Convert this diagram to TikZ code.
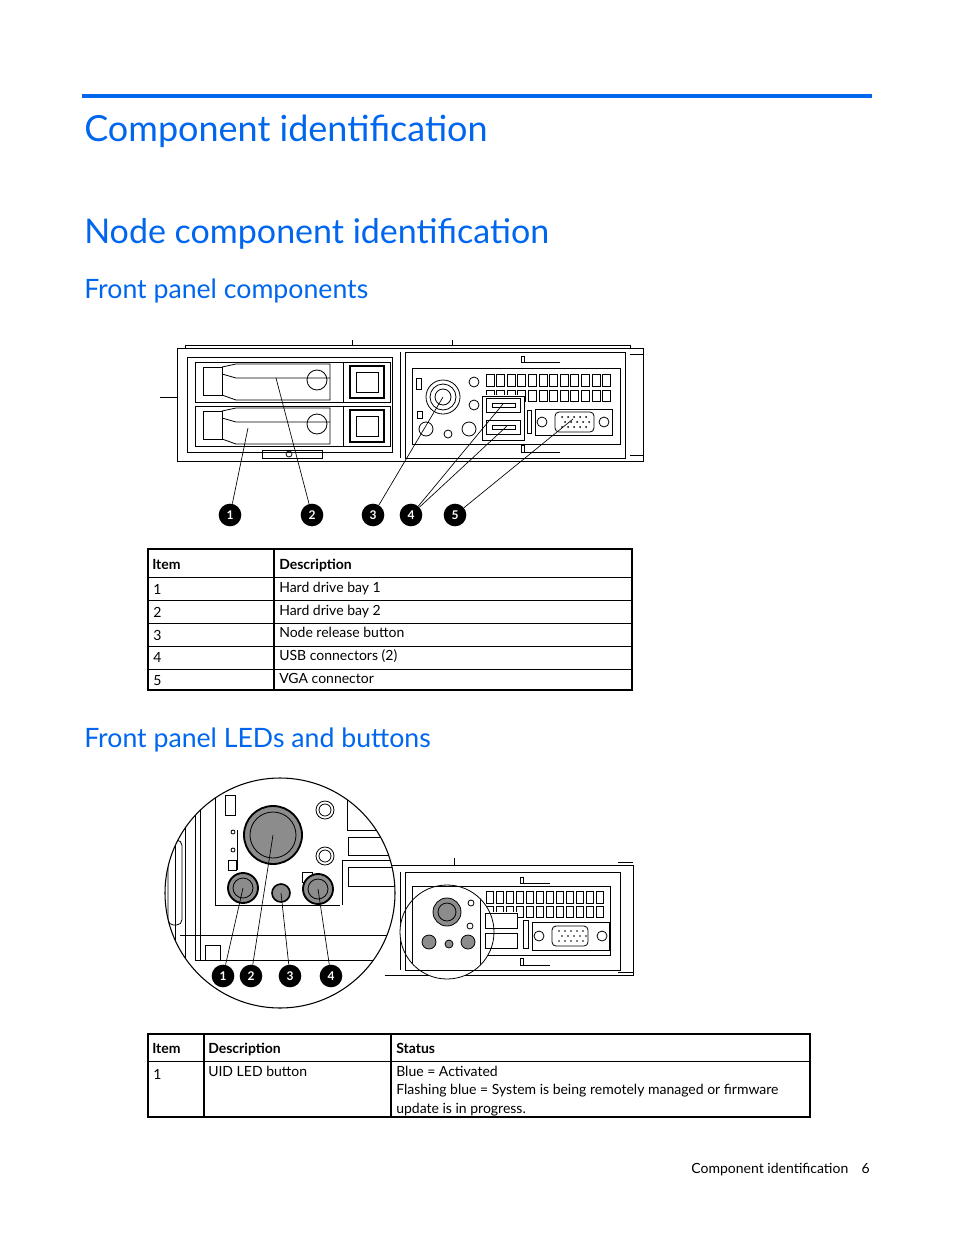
\documentclass[tikz,border=0pt]{standalone}
\usepackage{fontspec}
\setmainfont{Lato}
\definecolor{hpblue}{RGB}{0,102,238}
\definecolor{btn}{RGB}{140,140,140}
\begin{document}
\begin{tikzpicture}[x=0.75pt,y=-0.75pt,
  txt/.style={anchor=base west,inner sep=0pt,font=\fontsize{10.5}{12}\selectfont},
  hd/.style={anchor=base west,inner sep=0pt,font=\fontsize{10.5}{12}\selectfont\bfseries},
  badge/.style={circle,fill=black,text=white,inner sep=0pt,minimum size=17pt,font=\fontsize{9}{9}\selectfont\bfseries},
  ln/.style={line width=0.5pt},
  dl/.style={line width=0.6pt}]
\useasboundingbox (0,0) rectangle (954,1235);
% headings
\fill[hpblue] (82,94) rectangle (872,98);
\node[anchor=base west,inner sep=0pt,text=hpblue,font=\fontsize{27}{30}\selectfont] (t1) at (84,141) {Component identification};
\node[anchor=base west,inner sep=0pt,text=hpblue,font=\fontsize{25.5}{30}\selectfont] (t2) at (84,243) {Node component identification};
\node[anchor=base west,inner sep=0pt,text=hpblue,font=\fontsize{20}{24}\selectfont] (t3) at (84,298) {Front panel components};
\node[anchor=base west,inner sep=0pt,text=hpblue,font=\fontsize{20}{24}\selectfont] (t4) at (84,747) {Front panel LEDs and buttons};
\node[anchor=base east,inner sep=0pt,font=\fontsize{10.5}{12}\selectfont] (ft) at (870,1173) {Component identification\hspace{10pt}6};

% ===== drawing 1 =====
\begin{scope}[dl]
\draw (177,348) rectangle (643,461);
\draw (185,348) -- (185,345) -- (630,345) -- (630,348);
\draw (352,340) -- (352,345); \draw (452,340) -- (452,345);
\draw (160,397) -- (177,397);
\draw (187,357) rectangle (392,452);
\draw (400,352) -- (400,458);
\draw (405,352) rectangle (625,458);
\foreach \y in {362,406}{
  \draw (195,\y) rectangle (390,\y+40);
  \draw (203,\y+5) rectangle (222,\y+33);
  \draw (222,\y+5) -- (236,\y+2) -- (330,\y+2) -- (330,\y+38) -- (236,\y+38) -- (222,\y+33);
  \draw (222,\y+12) -- (236,\y+16) -- (330,\y+16);
  \draw (317,\y+18) circle (10);
  \draw (343,\y) -- (343,\y+40);
  \draw[line width=1.2pt] (350,\y+4) rectangle (384,\y+36);
  \draw (356,\y+10) rectangle (378,\y+30);
}
\draw (262,450) rectangle (322,458);
\draw (289,454) circle (3);
% right panel
\draw (412,368) rectangle (620,444);
\draw (521,356) rectangle (524,362); \draw (524,362) -- (560,362);
\draw (521,445) rectangle (524,452); \draw (524,452) -- (560,452);
\draw (443,397) circle (17); \draw (443,397) circle (13); \draw (443,397) circle (8);
\draw (474,382) circle (5); \draw (474,405) circle (5);
\draw (426,429) circle (7); \draw (448,434) circle (4); \draw (469,429) circle (7);
\draw (416,378) rectangle (421,389); \draw (417,411) rectangle (422,418);
\foreach \i in {0,...,11}{
  \draw (486+\i*10.6,374) rectangle (494+\i*10.6,386);
  \draw (486+\i*10.6,390) rectangle (494+\i*10.6,401);
}
\fill[white] (482,395) rectangle (524,440);
\draw (482,396) rectangle (524,440);
\draw (486,398) rectangle (520,412); \draw (492,403) rectangle (515,407);
\draw (486,420) rectangle (520,434); \draw (492,425) rectangle (515,429);
\draw (527,410) rectangle (531,433);
\draw (535,409) -- (612,409) -- (612,435) -- (535,435) -- cycle;
\draw (542,422) circle (5); \draw (604,422) circle (5);
\draw[rounded corners=3pt] (555,412) rectangle (594,432);
\foreach \i in {0,...,4}{\fill (562+\i*6,417) circle (1); \fill (565+\i*6,422) circle (1);\fill (562+\i*6,427) circle (1);}
\draw (630,348) -- (643,348) -- (643,354) -- (630,354);
\draw (630,455) -- (643,455) -- (643,461);
\end{scope}
\coordinate (p1) at (248,428); \coordinate (p2) at (276,378); \coordinate (p3) at (443,397);
\coordinate (p4a) at (503,404); \coordinate (p4b) at (507,426); \coordinate (p5) at (573,419);
\node[badge] (b1) at (230,515) {1};
\node[badge] (b2) at (312,515) {2};
\node[badge] (b3) at (373,515) {3};
\node[badge] (b4) at (411,515) {4};
\node[badge] (b5) at (455,515) {5};
\draw[ln] (b1) -- (p1); \draw[ln] (b2) -- (p2); \draw[ln] (b3) -- (p3);
\draw[ln] (b4) -- (p4a); \draw[ln] (b4) -- (p4b); \draw[ln] (b5) -- (p5);

% ===== table 1 =====
\begin{scope}[line width=0.8pt]
\draw (148,549) rectangle (632,690);
\draw (274,549) -- (274,690);
\foreach \y in {577,600,623,646,669} \draw[line width=0.5pt] (148,\y) -- (632,\y);
\end{scope}
\node[hd] (h1) at (152,569) {Item}; \node[hd] (h2) at (279,569) {Description};
\node[txt] (r1a) at (153,594) {1}; \node[txt] (r1b) at (279,592) {Hard drive bay 1};
\node[txt] (r2a) at (153,617) {2}; \node[txt] (r2b) at (279,615) {Hard drive bay 2};
\node[txt] (r3a) at (153,640) {3}; \node[txt] (r3b) at (279,637) {Node release button};
\node[txt] (r4a) at (153,662) {4}; \node[txt] (r4b) at (279,660) {USB connectors (2)};
\node[txt] (r5a) at (153,685) {5}; \node[txt] (r5b) at (279,683) {VGA connector};

% ===== drawing 2 =====
\begin{scope}[dl]
\draw (385,865) -- (633,865) -- (633,975) -- (385,975);
\draw (454,858) -- (454,865);
\draw (618,862) -- (633,862); \draw (618,972) -- (633,972);
\draw (400,872) -- (400,970);
\draw (405,872) rectangle (620,970);
\draw (412,886) rectangle (610,955);
\draw (520,877) rectangle (523,883); \draw (523,883) -- (550,883);
\draw (520,958) rectangle (523,965); \draw (523,965) -- (550,965);
\foreach \i in {0,...,11}{
  \draw (486+\i*10,891) rectangle (493+\i*10,903);
  \draw (486+\i*10,906) rectangle (493+\i*10,917);
}
\fill[white] (483,912) rectangle (518,950);
\draw (485,913) rectangle (517,928); \draw (485,933) rectangle (517,948);
\draw (523,920) rectangle (528,948);
\draw (532,922) rectangle (609,950);
\draw (539,936) circle (5); \draw (602,936) circle (5);
\draw[rounded corners=3pt] (552,926) rectangle (588,946);
\foreach \i in {0,...,4}{\fill (559+\i*6,931) circle (0.9); \fill (562+\i*6,936) circle (0.9);\fill (559+\i*6,941) circle (0.9);}
\draw[fill=white] (447,932) circle (47);
\begin{scope}
\clip (447,932) circle (47);
\draw (412,886) rectangle (480,970);
\fill[btn] (447,912) circle (14); \draw (447,912) circle (14); \draw (447,912) circle (9);
\fill[btn] (429,942) circle (7); \draw (429,942) circle (7);
\fill[btn] (449,944) circle (4); \draw (449,944) circle (4);
\fill[btn] (468,942) circle (7); \draw (468,942) circle (7);
\draw (471,903) circle (3); \draw (470,926) circle (3);
\draw (485,913) rectangle (517,928); \draw (485,933) rectangle (517,948);
\draw (405,872) rectangle (620,970);
\end{scope}
\draw[fill=white,line width=0.8pt] (280,893) circle (115);
\begin{scope}
\clip (280,893) circle (115);
\draw (175,800) -- (175,1000); \draw (185,800) -- (185,1000);
\draw (195,780) -- (195,960); \draw (200,780) -- (200,960);
\draw[rounded corners=4pt] (168,840) rectangle (182,925);
\draw (215,780) -- (215,905) -- (340,905);
\draw (195,960) -- (395,960);
\draw (180,935) -- (395,935);
\draw (225,795) rectangle (235,815);
\draw (237,830) -- (237,870);
\draw (233,832) circle (2); \draw (233,850) circle (2);
\draw (228,860) rectangle (236,870);
\draw (325,810) circle (9); \draw (325,810) circle (6);
\draw (325,856) circle (9); \draw (325,856) circle (6);
\draw (302,872) rectangle (312,882);
\draw (347,795) rectangle (395,830);
\draw (342,905) -- (342,860) -- (400,860);
\draw (348,867) rectangle (400,886);
\draw (348,837) rectangle (400,855);
\draw (205,945) rectangle (220,960);
\fill[btn] (273,835) circle (29); \draw[line width=1.4pt] (273,835) circle (29); \draw (273,835) circle (23);
\fill[btn] (243,888) circle (15); \draw[line width=1.4pt] (243,888) circle (15); \draw (243,888) circle (10);
\fill[btn] (281,893) circle (9); \draw[line width=1.2pt] (281,893) circle (9);
\fill[btn] (318,889) circle (15); \draw[line width=1.4pt] (318,889) circle (15); \draw (318,889) circle (10);
\end{scope}
\end{scope}
\coordinate (q1) at (243,888); \coordinate (q2) at (273,835); \coordinate (q3) at (281,893); \coordinate (q4) at (318,889);
\node[badge] (c1) at (223,976) {1};
\node[badge] (c2) at (251,976) {2};
\node[badge] (c3) at (290,976) {3};
\node[badge] (c4) at (331,976) {4};
\draw[ln] (c1) -- (q1); \draw[ln] (c2) -- (q2); \draw[ln] (c3) -- (q3); \draw[ln] (c4) -- (q4);

% ===== table 2 =====
\begin{scope}[line width=0.8pt]
\draw (148,1034) rectangle (810,1117);
\draw (204,1034) -- (204,1117); \draw (391,1034) -- (391,1117);
\draw[line width=0.5pt] (148,1061) -- (810,1061);
\end{scope}
\node[hd] (g1) at (152,1053) {Item}; \node[hd] (g2) at (208,1053) {Description}; \node[hd] (g3) at (396,1053) {Status};
\node[txt] (s1) at (153,1079) {1}; \node[txt] (s2) at (208,1076) {UID LED button};
\node[txt] (s3) at (396,1076) {Blue = Activated};
\node[txt] (s4) at (396,1094) {Flashing blue = System is being remotely managed or firmware};
\node[txt] (s5) at (396,1113) {update is in progress.};
\end{tikzpicture}
\end{document}
